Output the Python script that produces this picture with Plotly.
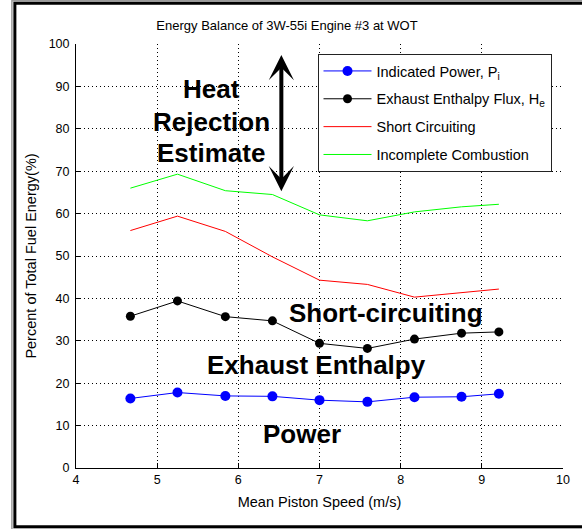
import plotly.graph_objects as go

# Mean piston speed (m/s) for each test point
speed = [4.67, 5.25, 5.84, 6.42, 7.00, 7.59, 8.17, 8.75, 9.21]

# Cumulative energy shares, percent of total fuel energy
indicated_power = [16.4, 17.8, 17.0, 16.9, 16.0, 15.6, 16.7, 16.8, 17.5]
exhaust_enthalpy = [35.8, 39.4, 35.7, 34.7, 29.4, 28.2, 30.4, 31.8, 32.1]
short_circuiting = [56.0, 59.4, 55.8, 49.8, 44.3, 43.3, 40.3, 41.4, 42.2]
incomplete_combustion = [66.0, 69.3, 65.4, 64.5, 59.7, 58.3, 60.4, 61.6, 62.2]

x_ticks = [4, 5, 6, 7, 8, 9, 10]
y_ticks = [0, 10, 20, 30, 40, 50, 60, 70, 80, 90, 100]

FONT = "Arial, Liberation Sans, sans-serif"

fig = go.Figure()

fig.add_trace(go.Scatter(
    x=speed, y=indicated_power, mode="lines+markers",
    name="Indicated Power, P<sub>i</sub>", legendgroup="p",
    line=dict(color="#0000ff", width=1),
    marker=dict(color="#0000ff", size=10, symbol="circle"),
))
fig.add_trace(go.Scatter(
    x=speed, y=exhaust_enthalpy, mode="lines+markers",
    name="Exhaust Enthalpy Flux, H<sub>e</sub>", legendgroup="h",
    line=dict(color="#000000", width=1),
    marker=dict(color="#000000", size=9, symbol="circle"),
))
fig.add_trace(go.Scatter(
    x=speed, y=short_circuiting, mode="lines",
    name="Short Circuiting", legendgroup="s",
    line=dict(color="#ff0000", width=1),
))
fig.add_trace(go.Scatter(
    x=speed, y=incomplete_combustion, mode="lines",
    name="Incomplete Combustion", legendgroup="c",
    line=dict(color="#00ff00", width=1),
))

# Region labels
big = dict(family=FONT, size=26, color="#000000")
labels = [
    ("Heat", 5.665, 89.3),
    ("Rejection", 5.665, 81.7),
    ("Estimate", 5.665, 74.4),
    ("Short-circuiting", 7.814, 36.6),
    ("Exhaust Enthalpy", 6.957, 24.3),
    ("Power", 6.786, 8.0),
]
annotations = []
for text, xv, yv in labels:
    annotations.append(dict(
        x=xv, y=yv, xref="x", yref="y", text=f"<b>{text}</b>",
        showarrow=False, font=big, xanchor="center", yanchor="middle",
    ))

# Double-headed arrow spanning the heat rejection band
annotations.append(dict(
    x=6.53, y=97.4, ax=6.53, ay=64.9, xref="x", yref="y", axref="x", ayref="y",
    text="", showarrow=True, arrowhead=3, startarrowhead=3,
    arrowside="end+start", arrowwidth=4, arrowsize=1.05, startarrowsize=1.05,
    arrowcolor="#000000",
))

# Window frame around the figure
shapes = [
    dict(type="rect", xref="paper", yref="paper",
         x0=(11.5 - 76) / 490, x1=(610 - 76) / 490,
         y0=(468 - 529.5) / 424, y1=(468 - 0.7) / 424,
         line=dict(color="#9a9a9a", width=1.5), fillcolor="rgba(0,0,0,0)"),
    dict(type="rect", xref="paper", yref="paper",
         x0=(14.5 - 76) / 490, x1=(605 - 76) / 490,
         y0=(468 - 526.7) / 424, y1=(468 - 3.2) / 424,
         line=dict(color="#000000", width=3), fillcolor="rgba(0,0,0,0)"),
]

fig.update_layout(
    width=582, height=529,
    margin=dict(l=76, r=16, t=44, b=61),
    paper_bgcolor="#ffffff", plot_bgcolor="#ffffff",
    font=dict(family=FONT, size=12, color="#000000"),
    title=dict(text="Energy Balance of 3W-55i Engine #3 at WOT",
               x=287 / 582, xanchor="center",
               y=1 - 25 / 529, yanchor="middle",
               font=dict(family=FONT, size=13, color="#000000")),
    showlegend=True,
    legend=dict(
        x=(319 - 76) / 490, y=(468 - 54) / 424, xanchor="left", yanchor="top",
        bgcolor="#ffffff", bordercolor="#222222", borderwidth=1,
        font=dict(family=FONT, size=14.5, color="#000000"),
        itemwidth=48, tracegroupgap=6,
    ),
    annotations=annotations,
    shapes=shapes,
)

axis_common = dict(
    showgrid=True, gridcolor="#000000", griddash="1px,3px", gridwidth=1,
    showline=True, linecolor="#000000", linewidth=1,
    ticks="inside", ticklen=5, tickcolor="#000000", tickwidth=1,
    zeroline=False, mirror=False,
    tickfont=dict(family=FONT, size=12.5, color="#000000"),
)

fig.update_xaxes(
    range=[4, 10], tickvals=x_ticks, ticktext=[str(v) for v in x_ticks],
    title=dict(text="Mean Piston Speed (m/s)", standoff=10,
               font=dict(family=FONT, size=14.5, color="#000000")),
    **axis_common,
)
fig.update_yaxes(
    range=[0, 100], tickvals=y_ticks, ticktext=[str(v) for v in y_ticks],
    ticklabelstandoff=3,
    title=dict(text="Percent of Total Fuel Energy(%)", standoff=8,
               font=dict(family=FONT, size=14.5, color="#000000")),
    **axis_common,
)

fig.write_html("out.html")
